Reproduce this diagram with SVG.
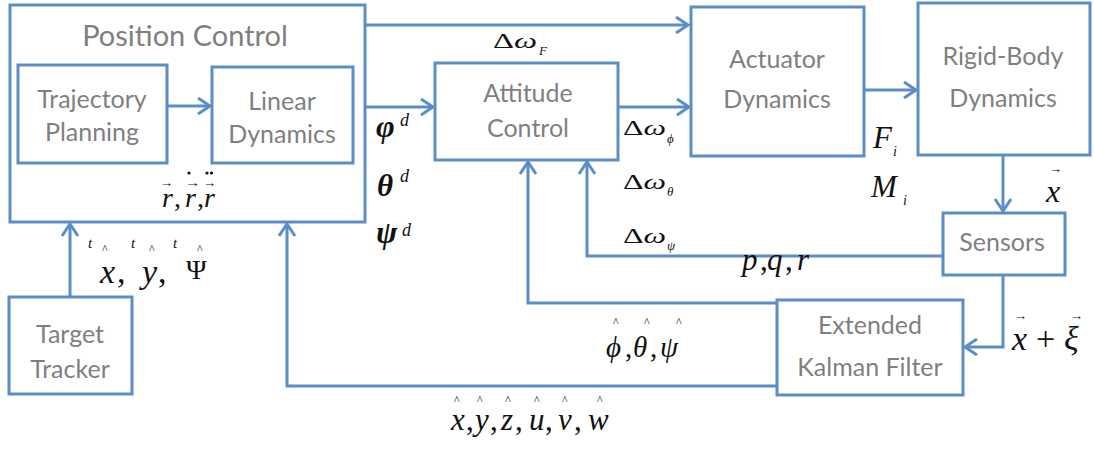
<svg xmlns="http://www.w3.org/2000/svg" width="1094" height="453" viewBox="0 0 1094 453">
<defs>
<style>
.box{fill:none;stroke:#5b8dc6;stroke-width:3}
.ln{fill:none;stroke:#5b8dc6;stroke-width:3;marker-end:url(#ah)}
.lb{font-family:Lato,"Open Sans",sans-serif;font-size:25px;fill:#7f7f7f;text-anchor:middle}
.m{font-family:"Liberation Serif","Times New Roman",serif;fill:#111}
.i{font-style:italic}
.c{font-family:"Liberation Serif","Times New Roman",serif;fill:#111;font-size:12px}
</style>
<marker id="ah" markerUnits="userSpaceOnUse" markerWidth="18" markerHeight="20" refX="14" refY="9" orient="auto">
<path d="M2,1 L14,9 L2,17" fill="none" stroke="#5b8dc6" stroke-width="3" stroke-linejoin="miter"/>
</marker>
</defs>
<rect width="1094" height="453" fill="#fff"/>

<g id="connectors">
<path class="ln" d="M365,25 H688"/>
<path class="ln" d="M365,107 H433"/>
<path class="ln" d="M167,106 H210"/>
<path class="ln" d="M618,107 H689"/>
<path class="ln" d="M864,90 H916"/>
<path class="ln" d="M1003,155 V211"/>
<path class="ln" d="M943,256 H587 V162"/>
<path class="ln" d="M1003,275 V347 H965"/>
<path class="ln" d="M777,303 H528 V162"/>
<path class="ln" d="M777,386 H287 V224"/>
<path class="ln" d="M70,297 V224"/>
</g>

<g id="position-control">
<rect class="box" x="10" y="5" width="355" height="217"/>
<text class="lb" x="185" y="46" style="font-size:29px">Position Control</text>
</g>
<g id="trajectory-planning">
<rect class="box" x="18" y="65" width="149" height="98"/>
<text class="lb" x="92" y="108">Trajectory</text>
<text class="lb" x="92" y="141">Planning</text>
</g>
<g id="linear-dynamics">
<rect class="box" x="212" y="67" width="141" height="96"/>
<text class="lb" x="282" y="110">Linear</text>
<text class="lb" x="282" y="143">Dynamics</text>
</g>
<g id="attitude-control">
<rect class="box" x="435" y="63" width="183" height="97"/>
<text class="lb" x="528" y="102">Attitude</text>
<text class="lb" x="528" y="137">Control</text>
</g>
<g id="actuator-dynamics">
<rect class="box" x="691" y="7" width="173" height="149"/>
<text class="lb" x="777" y="68">Actuator</text>
<text class="lb" x="777" y="108">Dynamics</text>
</g>
<g id="rigid-body-dynamics">
<rect class="box" x="918" y="3" width="172" height="152"/>
<text class="lb" x="1003" y="65">Rigid-Body</text>
<text class="lb" x="1003" y="107">Dynamics</text>
</g>
<g id="sensors">
<rect class="box" x="943" y="213" width="122" height="62"/>
<text class="lb" x="1002" y="251">Sensors</text>
</g>
<g id="ekf">
<rect class="box" x="777" y="300" width="186" height="95"/>
<text class="lb" x="870" y="334">Extended</text>
<text class="lb" x="870" y="376">Kalman Filter</text>
</g>
<g id="target-tracker">
<rect class="box" x="9" y="297" width="123" height="97"/>
<text class="lb" x="70" y="343">Target</text>
<text class="lb" x="70" y="378">Tracker</text>
</g>

<g id="labels">
<!-- r vectors -->
<text class="m i" x="162" y="207" font-size="28">r</text>
<text class="m" x="174" y="207" font-size="28">,</text>
<text class="m i" x="185" y="207" font-size="28">r</text>
<text class="m" x="197" y="207" font-size="28">,</text>
<text class="m i" x="204" y="207" font-size="28">r</text>
<text class="m" x="160" y="187" font-size="13">→</text>
<text class="m" x="185" y="187" font-size="13" textLength="15" lengthAdjust="spacingAndGlyphs">→</text>
<text class="m" x="203" y="187" font-size="13">→</text>
<circle cx="189" cy="173" r="1.6" fill="#111"/>
<circle cx="207" cy="173" r="1.6" fill="#111"/>
<circle cx="211.5" cy="173" r="1.6" fill="#111"/>

<!-- Delta omega F -->
<text class="m" x="493" y="48" font-size="22" textLength="44" lengthAdjust="spacingAndGlyphs">Δ<tspan class="i">ω</tspan></text>
<text class="m i" x="539" y="55" font-size="13">F</text>

<!-- phi theta psi d -->
<text class="m i" x="376" y="137" font-size="32" font-weight="bold">φ</text>
<text class="m i" x="400" y="126" font-size="18">d</text>
<text class="m i" x="377" y="196" font-size="31" font-weight="bold">θ</text>
<text class="m i" x="400" y="182" font-size="18">d</text>
<text class="m i" x="376" y="243" font-size="32" font-weight="bold">ψ</text>
<text class="m i" x="402" y="236" font-size="18">d</text>

<!-- delta omega subs -->
<text class="m" x="623" y="135" font-size="22" textLength="43" lengthAdjust="spacingAndGlyphs">Δ<tspan class="i">ω</tspan></text>
<text class="m i" x="667" y="143" font-size="13">ϕ</text>
<text class="m" x="623" y="189" font-size="22" textLength="43" lengthAdjust="spacingAndGlyphs">Δ<tspan class="i">ω</tspan></text>
<text class="m i" x="667" y="196" font-size="13">θ</text>
<text class="m" x="623" y="243" font-size="22" textLength="43" lengthAdjust="spacingAndGlyphs">Δ<tspan class="i">ω</tspan></text>
<text class="m i" x="667" y="250" font-size="13">ψ</text>

<!-- F_i M_i -->
<text class="m i" x="873" y="148" font-size="31">F</text>
<text class="m i" x="893" y="156" font-size="14">i</text>
<text class="m i" x="871" y="197" font-size="31">M</text>
<text class="m i" x="903" y="205" font-size="14">i</text>

<!-- x vector -->
<text class="m i" x="1046" y="202" font-size="32">x</text>
<text class="m" x="1049" y="173" font-size="13">→</text>

<!-- p,q,r -->
<text class="m i" x="742" y="270" font-size="31">p</text>
<text class="m" x="760" y="270" font-size="31">,</text>
<text class="m i" x="767" y="270" font-size="31">q</text>
<text class="m" x="785" y="270" font-size="31">,</text>
<text class="m i" x="797" y="270" font-size="31">r</text>

<!-- x + xi -->
<text class="m i" x="1012" y="350" font-size="34">x</text>
<text class="m" x="1036" y="350" font-size="34">+</text>
<text class="m i" x="1064" y="350" font-size="34">ξ</text>
<text class="m" x="1014" y="320" font-size="13">→</text>
<text class="m" x="1070" y="320" font-size="13">→</text>

<!-- phi theta psi hat -->
<text class="m i" x="606" y="357" font-size="29">ϕ</text>
<text class="m" x="625" y="357" font-size="29">,</text>
<text class="m i" x="633" y="357" font-size="29">θ</text>
<text class="m" x="650" y="357" font-size="29">,</text>
<text class="m i" x="660" y="357" font-size="29">ψ</text>
<text class="c" x="613" y="326">^</text>
<text class="c" x="644" y="326">^</text>
<text class="c" x="676" y="326">^</text>

<!-- x,y,z,u,v,w hat -->
<text class="m i" x="451" y="430" font-size="31">x</text>
<text class="m" x="466" y="430" font-size="31">,</text>
<text class="m i" x="475" y="430" font-size="31">y</text>
<text class="m" x="490" y="430" font-size="31">,</text>
<text class="m i" x="501" y="430" font-size="31">z</text>
<text class="m" x="515" y="430" font-size="31">,</text>
<text class="m i" x="529" y="430" font-size="31">u</text>
<text class="m" x="545" y="430" font-size="31">,</text>
<text class="m i" x="558" y="430" font-size="31">v</text>
<text class="m" x="574" y="430" font-size="31">,</text>
<text class="m i" x="588" y="430" font-size="31">w</text>
<text class="c" x="454" y="404">^</text>
<text class="c" x="477" y="404">^</text>
<text class="c" x="505" y="404">^</text>
<text class="c" x="534" y="404">^</text>
<text class="c" x="562" y="404">^</text>
<text class="c" x="597" y="404">^</text>

<!-- t x, t y, t Psi -->
<text class="m i" x="100" y="283" font-size="34">x</text>
<text class="m" x="117" y="283" font-size="34">,</text>
<text class="m i" x="142" y="283" font-size="34">y</text>
<text class="m" x="158" y="283" font-size="34">,</text>
<text class="m" x="186" y="279" font-size="28">Ψ</text>
<text class="m i" x="88" y="248" font-size="15">t</text>
<text class="c" x="102" y="253">^</text>
<text class="m i" x="131" y="248" font-size="15">t</text>
<text class="c" x="149" y="253">^</text>
<text class="m i" x="173" y="248" font-size="15">t</text>
<text class="c" x="197" y="253">^</text>
</g>
</svg>
